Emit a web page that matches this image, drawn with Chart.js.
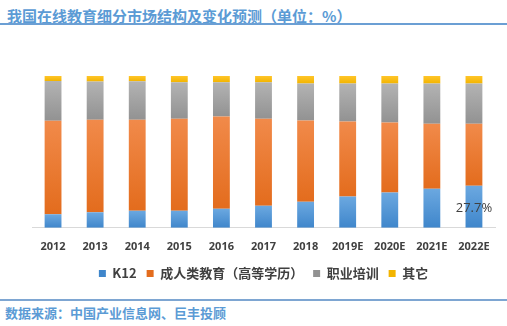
<!DOCTYPE html>
<html><head><meta charset="utf-8">
<script src="https://cdn.jsdelivr.net/npm/chart.js@4/dist/chart.umd.min.js"></script>
<style>
html,body{margin:0;padding:0;background:#fff;}
body{width:507px;height:326px;position:relative;overflow:hidden;font-family:"Noto Sans CJK SC","Noto Sans",sans-serif;}
#title{position:absolute;left:7px;top:7px;font-size:15px;font-weight:bold;color:#5b9bd5;line-height:18px;white-space:nowrap;}
#tline{position:absolute;left:0;top:23px;width:507px;height:2px;background:#6b9fd4;}
#fline{position:absolute;left:0;top:299px;width:507px;height:2px;background:#7ea6d2;}
#foot{position:absolute;left:5px;top:305px;font-size:13px;font-weight:bold;color:#5b9bd5;line-height:16px;white-space:nowrap;}
#wrap{position:absolute;left:0;top:25px;width:507px;height:274px;}
</style>
</head><body>
<div id="title">我国在线教育细分市场结构及变化预测（单位：%）</div>
<div id="tline"></div>
<div id="wrap"><canvas id="c" width="507" height="274"></canvas></div>
<div id="fline"></div>
<div id="foot">数据来源：中国产业信息网、巨丰投顾</div>
<script>
const years = ['2012','2013','2014','2015','2016','2017','2018','2019E','2020E','2021E','2022E'];
const seriesNames = ['K12','成人类教育（高等学历）','职业培训','其它'];
const k12        = [8.9, 10.2, 11.3, 11.3, 12.6, 14.5, 17.1, 20.6, 23.2, 25.8, 27.7];
const adult      = [61.6, 60.9, 59.8, 60.5, 60.7, 57.3, 53.6, 49.5, 46.2, 42.7, 40.8];
const vocational = [26.2, 25.2, 25.4, 24.1, 22.6, 24.1, 24.3, 24.9, 25.6, 26.5, 26.5];
const other      = [3.3, 3.7, 3.5, 4.1, 4.1, 4.1, 5.0, 5.0, 5.0, 5.0, 5.0];
const labelledIndex = [10];

const series = [k12, adult, vocational, other];
const palette = [
  ['#6ba8e0', '#3f86cb', '#5b9bd5'],
  ['#f18a4a', '#e36c1d', '#ed7d31'],
  ['#b3b3b3', '#929292', '#a5a5a5'],
  ['#ffc52a', '#f2b400', '#ffc000']
];

function grad(ctx) {
  const d = ctx.datasetIndex;
  const [c1, c2, solid] = palette[d];
  const chart = ctx.chart;
  const y = chart.scales && chart.scales.y;
  if (ctx.type !== 'data' || !y) return solid;
  const i = ctx.dataIndex;
  let base = 0;
  for (let k = 0; k < d; k++) base += series[k][i];
  const top = base + series[d][i];
  const y0 = y.getPixelForValue(top), y1 = y.getPixelForValue(base);
  if (!isFinite(y0) || !isFinite(y1) || y0 === y1) return solid;
  const g = chart.ctx.createLinearGradient(0, y0, 0, y1);
  g.addColorStop(0, c1);
  g.addColorStop(1, c2);
  return g;
}

const labelPlugin = {
  id: 'k12label',
  afterDatasetsDraw(chart) {
    const meta = chart.getDatasetMeta(0);
    const c = chart.ctx;
    c.save();
    c.font = '13px "Open Sans", sans-serif';
    c.fillStyle = '#404040';
    c.textAlign = 'center';
    c.textBaseline = 'middle';
    labelledIndex.forEach(i => {
      const el = meta.data[i];
      c.fillText(k12[i].toFixed(1) + '%', el.x, (el.y + el.base) / 2 + 2);
    });
    c.restore();
  }
};

new Chart(document.getElementById('c'), {
  type: 'bar',
  data: {
    labels: years,
    datasets: series.map((s, d) => ({
      label: seriesNames[d],
      data: s,
      backgroundColor: grad,
      borderWidth: 0,
      categoryPercentage: 0.8,
      barPercentage: 0.5
    }))
  },
  options: {
    responsive: false,
    animation: false,
    events: [],
    layout: { padding: { left: 32, right: 12, top: 51, bottom: 9 } },
    scales: {
      x: {
        stacked: true,
        grid: { display: false },
        border: { display: true, color: '#d9d9d9', width: 1 },
        ticks: { color: '#404040', font: { family: '"Open Sans", sans-serif', size: 11, weight: 'bold' }, padding: 4, maxRotation: 0, autoSkip: false }
      },
      y: { stacked: true, display: false, min: 0, max: 100 }
    },
    plugins: {
      legend: {
        position: 'bottom',
        labels: {
          boxWidth: 7, boxHeight: 7, padding: 10,
          color: '#404040',
          font: { family: '"Noto Sans CJK SC", sans-serif', size: 13, weight: 'bold' }
        }
      },
      tooltip: { enabled: false },
      title: { display: false }
    }
  },
  plugins: [labelPlugin]
});
</script>
</body></html>
